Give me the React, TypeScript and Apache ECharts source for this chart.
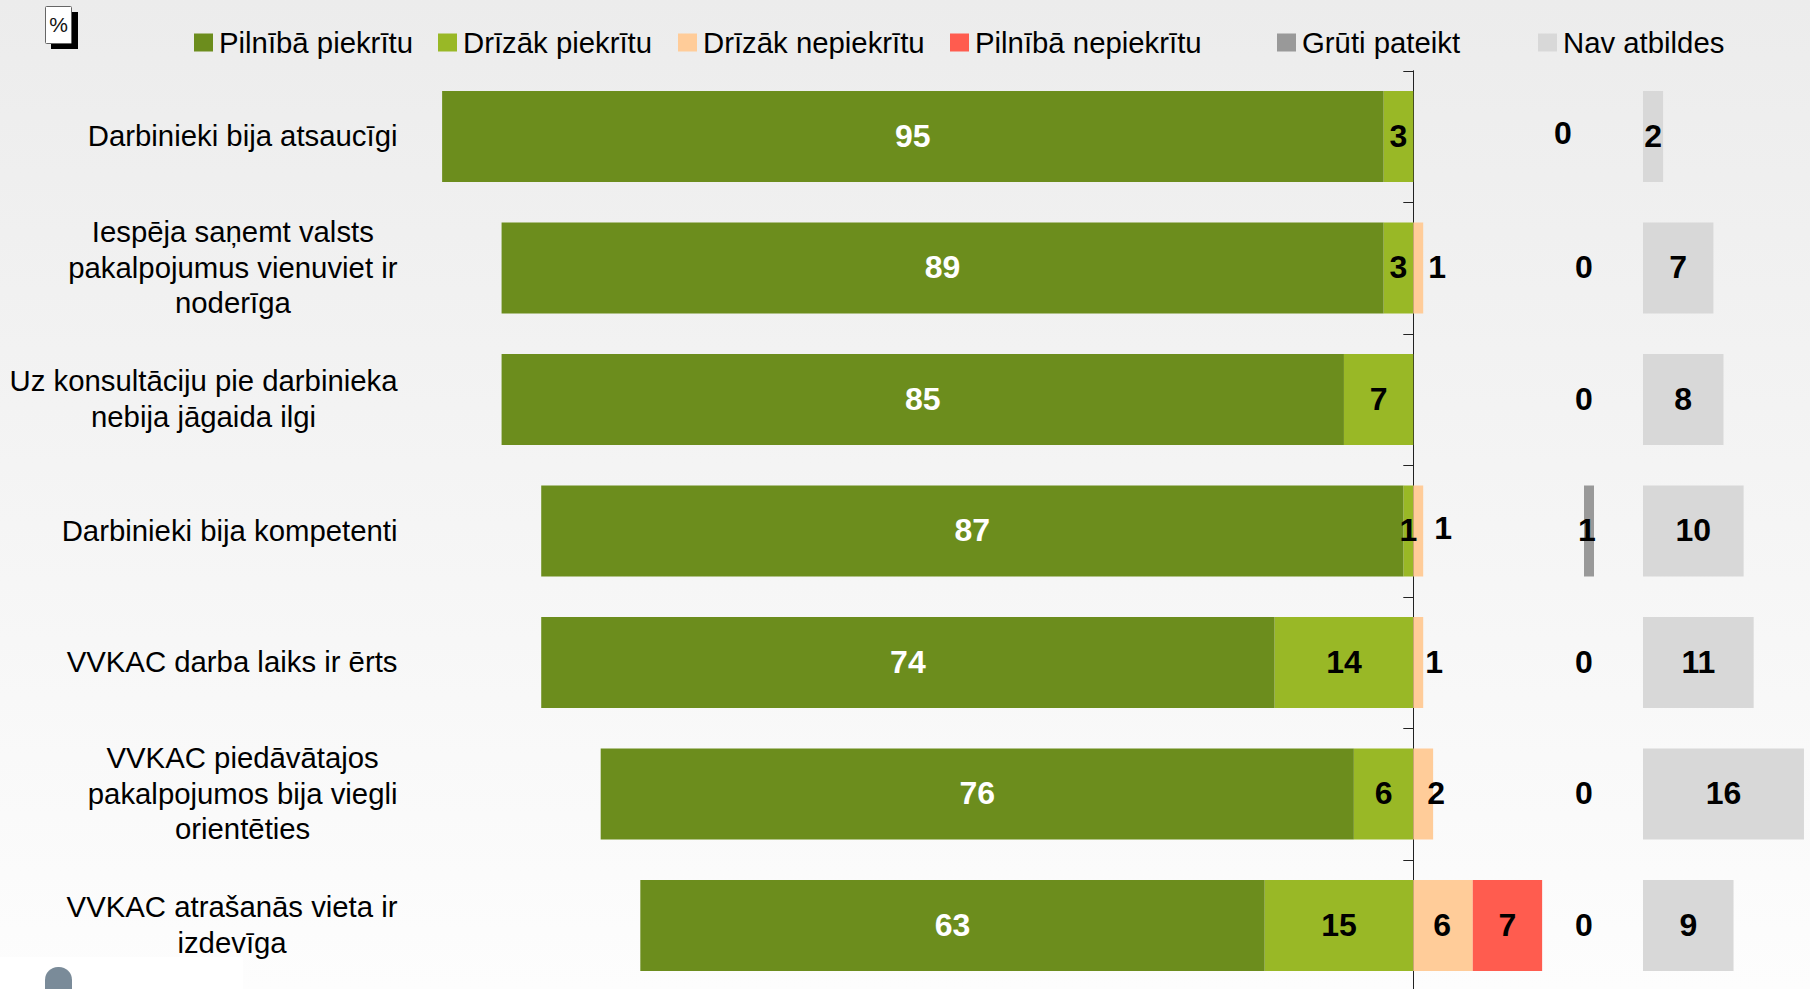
import React, { useEffect, useRef } from "react";
import * as echarts from "echarts";

const FONT = '"Liberation Sans", Arial, sans-serif';

const categories = [
  "Darbinieki bija atsaucīgi",
  "Iespēja saņemt valsts\npakalpojumus vienuviet ir\nnoderīga",
  "Uz konsultāciju pie darbinieka\nnebija jāgaida ilgi",
  "Darbinieki bija kompetenti",
  "VVKAC darba laiks ir ērts",
  "VVKAC piedāvātajos\npakalpojumos bija viegli\norientēties",
  "VVKAC atrašanās vieta ir\nizdevīga",
];

const fullyAgree = [95, 89, 85, 87, 74, 76, 63];
const ratherAgree = [3, 3, 7, 1, 14, 6, 15];
const ratherDisagree = [0, 1, 0, 1, 1, 2, 6];
const fullyDisagree = [0, 0, 0, 0, 0, 0, 7];
const hardToSay = [0, 0, 0, 1, 0, 0, 0];
const noAnswer = [2, 7, 8, 10, 11, 16, 9];

// Label nudges per row, for the values that sit beside their narrow bars
const ratherDisagreeLabelOffsets = [[0, -1], [19, -1], [0, -1], [25, -3], [16, -1], [13, -1], [-1, -1]];
const hardToSayLabelOffsets = [[-21, -4], [0, -1], [0, -1], [-2, -1], [0, -1], [0, -1], [0, -1]];
const defaultLabelOffset = [0, -1];

const NAMES = {
  fullyAgree: "Pilnībā piekrītu",
  ratherAgree: "Drīzāk piekrītu",
  ratherDisagree: "Drīzāk nepiekrītu",
  fullyDisagree: "Pilnībā nepiekrītu",
  hardToSay: "Grūti pateikt",
  noAnswer: "Nav atbildes",
};

const COLORS = {
  fullyAgree: "#6C8D1D",
  ratherAgree: "#99B826",
  ratherDisagree: "#FFCC99",
  fullyDisagree: "#FF5C4F",
  hardToSay: "#999999",
  noAnswer: "#D8D8D8",
};

const GRID_TOP = 70.75;
const GRID_HEIGHT = 920.5;
const AXIS_X = 1413.3;
const UNIT = 9.91;

function barSeries(
  name: string,
  color: string,
  values: number[],
  opts: { xAxisIndex: number; yAxisIndex: number; stack?: string; labelColor?: string; showZero?: boolean; sign?: number; offsets?: number[][] },
) {
  const sign = opts.sign ?? 1;
  return {
    type: "bar",
    name,
    xAxisIndex: opts.xAxisIndex,
    yAxisIndex: opts.yAxisIndex,
    stack: opts.stack,
    barWidth: 91,
    itemStyle: { color },
    data: values.map((v, i) => {
      const offset = opts.offsets ? opts.offsets[i] : defaultLabelOffset;
      return { value: v * sign, label: { offset } };
    }),
    label: {
      show: true,
      position: "inside",
      fontFamily: FONT,
      fontWeight: "bold",
      fontSize: 32,
      color: opts.labelColor ?? "#000000",
      formatter: (p: { value: number }) => (p.value === 0 && !opts.showZero ? "" : String(Math.abs(p.value))),
    },
    emphasis: { disabled: true },
  };
}

function legendEntry(name: string, left: number) {
  return {
    data: [name],
    left,
    top: 28,
    padding: 0,
    itemWidth: 19,
    itemHeight: 18,
    icon: "rect",
    selectedMode: false,
    textStyle: { fontFamily: FONT, fontSize: 29.33, color: "#000000", padding: [0, 0, 2, 1] },
  };
}

export default function App() {
  const ref = useRef<HTMLDivElement>(null);

  useEffect(() => {
    const chart = echarts.init(ref.current!, undefined, { renderer: "svg" });
    const hiddenCategoryAxis = (gridIndex: number) => ({
      type: "category",
      gridIndex,
      data: categories,
      inverse: true,
      show: false,
    });
    const hiddenValueAxis = (gridIndex: number, min: number, max: number) => ({
      type: "value",
      gridIndex,
      min,
      max,
      show: false,
    });

    chart.setOption({
      animation: false,
      backgroundColor: {
        type: "linear",
        x: 0,
        y: 0,
        x2: 0,
        y2: 1,
        colorStops: [
          { offset: 0, color: "#ECECEC" },
          { offset: 1, color: "#FDFDFD" },
        ],
      },
      grid: [
        { left: AXIS_X - 100 * UNIT, top: GRID_TOP, width: 114 * UNIT, height: GRID_HEIGHT, outerBoundsMode: "none" },
        { left: 1584, top: GRID_TOP, width: 50, height: GRID_HEIGHT, outerBoundsMode: "none" },
        { left: 1643, top: GRID_TOP, width: 167, height: GRID_HEIGHT, outerBoundsMode: "none" },
      ],
      xAxis: [hiddenValueAxis(0, -100, 14), hiddenValueAxis(1, 0, 5), hiddenValueAxis(2, 0, 16.6)],
      yAxis: [
        {
          type: "category",
          gridIndex: 0,
          data: categories,
          inverse: true,
          axisLine: { onZero: true, lineStyle: { color: "#222222", width: 1 } },
          axisTick: { show: true, length: 10, lineStyle: { color: "#222222", width: 1 } },
          axisLabel: {
            margin: AXIS_X - 100 * UNIT - 397.5,
            align: "right",
            interval: 0,
            padding: [0, 0, 2, 0],
            formatter: (v: string) => v.split("\n").map((line) => `{c|${line}}`).join("\n"),
            rich: {
              c: { align: "center", fontFamily: FONT, fontSize: 29.33, lineHeight: 35.5, color: "#000000" },
            },
          },
        },
        hiddenCategoryAxis(1),
        hiddenCategoryAxis(2),
      ],
      legend: [
        legendEntry(NAMES.fullyAgree, 194),
        legendEntry(NAMES.ratherAgree, 438),
        legendEntry(NAMES.ratherDisagree, 678),
        legendEntry(NAMES.fullyDisagree, 950),
        legendEntry(NAMES.hardToSay, 1277),
        legendEntry(NAMES.noAnswer, 1538),
      ],
      series: [
        barSeries(NAMES.ratherAgree, COLORS.ratherAgree, ratherAgree, { xAxisIndex: 0, yAxisIndex: 0, stack: "main", sign: -1 }),
        barSeries(NAMES.fullyAgree, COLORS.fullyAgree, fullyAgree, { xAxisIndex: 0, yAxisIndex: 0, stack: "main", sign: -1, labelColor: "#FFFFFF" }),
        barSeries(NAMES.ratherDisagree, COLORS.ratherDisagree, ratherDisagree, { xAxisIndex: 0, yAxisIndex: 0, stack: "main", offsets: ratherDisagreeLabelOffsets }),
        barSeries(NAMES.fullyDisagree, COLORS.fullyDisagree, fullyDisagree, { xAxisIndex: 0, yAxisIndex: 0, stack: "main" }),
        barSeries(NAMES.hardToSay, COLORS.hardToSay, hardToSay, { xAxisIndex: 1, yAxisIndex: 1, showZero: true, offsets: hardToSayLabelOffsets }),
        barSeries(NAMES.noAnswer, COLORS.noAnswer, noAnswer, { xAxisIndex: 2, yAxisIndex: 2 }),
      ],
      graphic: [
        // Percent badge in the top corner
        { type: "rect", shape: { x: 51, y: 12, width: 27, height: 37 }, style: { fill: "#000000" } },
        { type: "rect", shape: { x: 45.5, y: 6.5, width: 26, height: 37, r: 1 }, style: { fill: "#FFFFFF", stroke: "#666666", lineWidth: 1 } },
        {
          type: "text",
          x: 58.5,
          y: 24.5,
          style: { text: "%", fontFamily: FONT, fontSize: 21, fill: "#111111", align: "center", verticalAlign: "middle" },
        },
        // Page footer strip with the tab at the lower left
        { type: "rect", shape: { x: 0, y: 957, width: 243, height: 32 }, style: { fill: "#FFFFFF" } },
        { type: "rect", shape: { x: 45, y: 967, width: 27, height: 30, r: [13, 13, 0, 0] }, style: { fill: "#7A8B99" } },
      ],
    });
    return () => chart.dispose();
  }, []);

  return <div ref={ref} style={{ position: "fixed", left: 0, top: 0, width: 1810, height: 989 }} />;
}
